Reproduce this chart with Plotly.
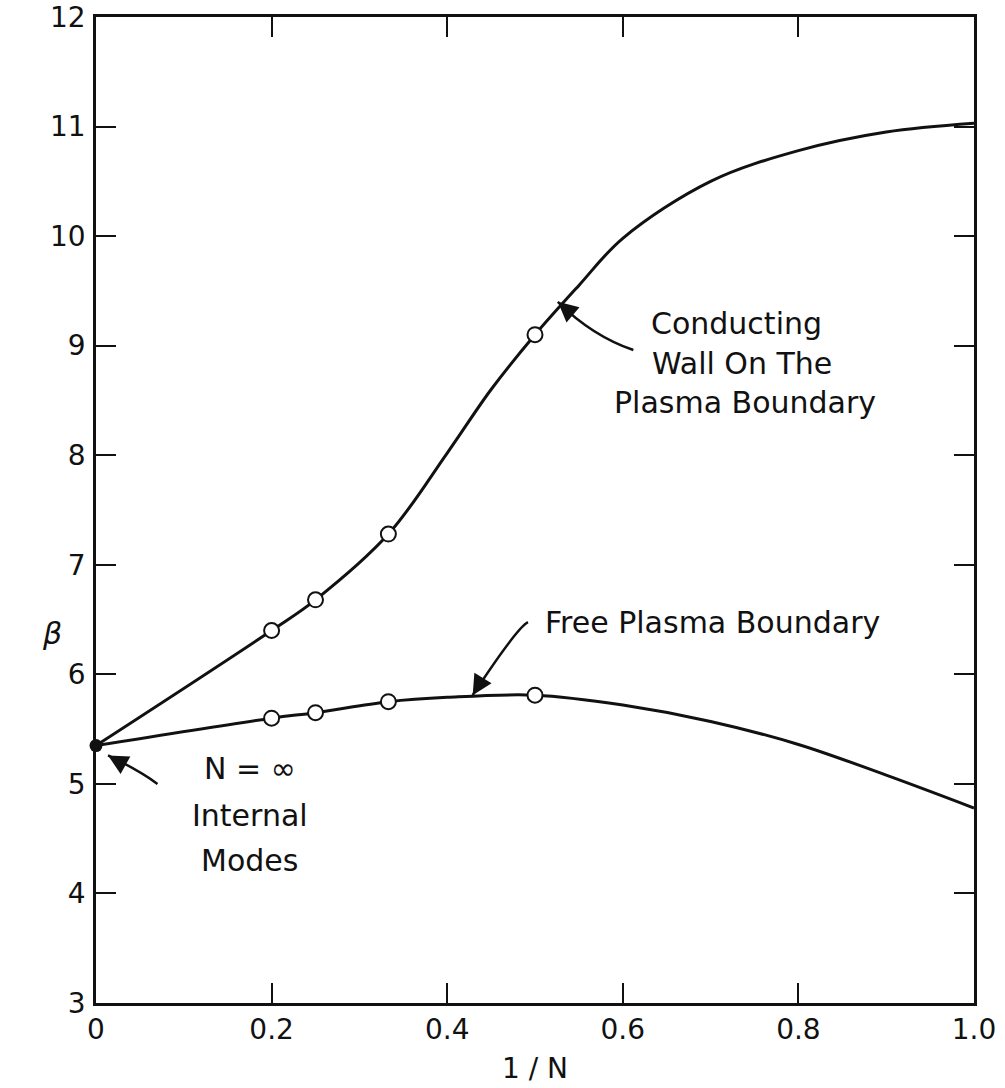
import plotly.graph_objects as go

# Stability limit beta versus 1/N for the two boundary conditions
x_ticks = [0, 0.2, 0.4, 0.6, 0.8, 1.0]
x_tick_text = ["0", "0.2", "0.4", "0.6", "0.8", "1.0"]
y_ticks = [3, 4, 5, 6, 7, 8, 9, 10, 11, 12]

# Conducting wall on the plasma boundary: smooth curve and computed points
wall_curve_x = [0.0, 0.2, 0.25, 0.333, 0.4, 0.45, 0.5, 0.55, 0.6, 0.7, 0.8, 0.9, 1.0]
wall_curve_y = [5.35, 6.4, 6.68, 7.28, 8.02, 8.6, 9.1, 9.55, 9.98, 10.5, 10.78, 10.95, 11.03]
wall_pts_x = [0.2, 0.25, 0.333, 0.5]
wall_pts_y = [6.4, 6.68, 7.28, 9.1]

# Free plasma boundary: smooth curve and computed points
free_curve_x = [0.0, 0.2, 0.25, 0.333, 0.4, 0.5, 0.6, 0.7, 0.8, 0.9, 1.0]
free_curve_y = [5.35, 5.6, 5.65, 5.75, 5.79, 5.81, 5.72, 5.57, 5.36, 5.08, 4.78]
free_pts_x = [0.2, 0.25, 0.333, 0.5]
free_pts_y = [5.6, 5.65, 5.75, 5.81]

# N = infinity internal-mode limit
inf_x = [0.0]
inf_y = [5.35]

INK = "#111111"
FONT = "DejaVu Sans"

fig = go.Figure()

for cx, cy in [(wall_curve_x, wall_curve_y), (free_curve_x, free_curve_y)]:
    fig.add_trace(go.Scatter(
        x=cx, y=cy, mode="lines",
        line=dict(color=INK, width=3, shape="spline", smoothing=1.0),
        hoverinfo="skip", showlegend=False, cliponaxis=False,
    ))

for px, py in [(wall_pts_x, wall_pts_y), (free_pts_x, free_pts_y)]:
    fig.add_trace(go.Scatter(
        x=px, y=py, mode="markers",
        marker=dict(symbol="circle", size=15, color="white",
                    line=dict(color=INK, width=2)),
        showlegend=False,
    ))

fig.add_trace(go.Scatter(
    x=inf_x, y=inf_y, mode="markers",
    marker=dict(symbol="circle", size=13, color=INK),
    showlegend=False, cliponaxis=False,
))

# curved leader lines (quadratic paths in data coordinates)
leaders = [
    # (tail, control, head)
    ((0.612, 8.96), (0.565, 9.09), (0.526, 9.40)),
    ((0.492, 6.476), (0.48, 6.43), (0.429, 5.81)),
    ((0.07, 5.0), (0.05, 5.12), (0.0137, 5.26)),
]
for (tx, ty), (cx, cy), (hx, hy) in leaders:
    fig.add_shape(
        type="path", xref="x", yref="y",
        path=f"M {tx},{ty} Q {cx},{cy} {hx},{hy}",
        line=dict(color=INK, width=2.5),
    )

# arrowheads at the head of each leader
heads = [
    (0.526, 9.40, 14, 12),
    (0.429, 5.81, 9, -15),
    (0.0137, 5.26, 16, 9),
]
for hx, hy, ax, ay in heads:
    fig.add_annotation(
        x=hx, y=hy, xref="x", yref="y", text="", showarrow=True,
        ax=ax, ay=ay, arrowhead=2, arrowsize=1.6, arrowwidth=2.5,
        arrowcolor=INK,
    )

label_font = dict(family=FONT, size=30, color=INK)
labels = [
    ("Conducting", 0.729, 323),
    ("Wall On The", 0.736, 363),
    ("Plasma Boundary", 0.739, 402),
    ("N = ∞", 0.175, 768),
    ("Internal", 0.175, 815),
    ("Modes", 0.175, 860),
]
for txt, xd, py in labels:
    fig.add_annotation(
        x=xd, y=3 + (1003 - py) / 109.6, xref="x", yref="y",
        text=txt, showarrow=False, xanchor="center", yanchor="middle",
        font=label_font,
    )

fig.add_annotation(
    x=0.509, y=3 + (1003 - 622) / 109.6, xref="x", yref="y",
    text="Free Plasma Boundary", showarrow=False,
    xanchor="left", yanchor="middle", font=label_font,
)

# axis titles
fig.add_annotation(
    x=0.5, y=-0.066, xref="x", yref="paper", text="1 / N",
    showarrow=False, font=dict(family=FONT, size=28, color=INK),
    yanchor="middle",
)
fig.add_annotation(
    x=-0.064, y=0.375, xref="paper", yref="paper", text="<i>β</i>",
    showarrow=False, font=dict(family=FONT, size=30, color=INK),
)

axis_common = dict(
    showgrid=False, zeroline=False, showline=True, linecolor=INK,
    linewidth=2.5, mirror="ticks", ticks="inside", ticklen=20,
    tickwidth=2, tickcolor=INK, automargin=False,
    tickfont=dict(family=FONT, size=28, color=INK),
)

fig.update_xaxes(range=[0, 1.0], tickvals=x_ticks, ticktext=x_tick_text,
                 **axis_common)
fig.update_yaxes(range=[3, 12], tickvals=y_ticks, ticklabelstandoff=2,
                 **axis_common)

fig.update_layout(
    width=1005, height=1088,
    margin=dict(l=96, r=31, t=17, b=85, autoexpand=False),
    paper_bgcolor="white", plot_bgcolor="white",
    font=dict(family=FONT, color=INK),
    showlegend=False,
)

fig.write_html("out.html")
